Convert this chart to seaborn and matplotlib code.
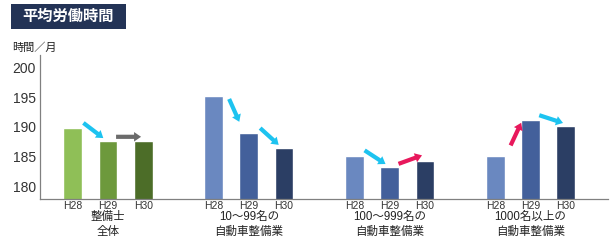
import numpy as np
import pandas as pd
import matplotlib
matplotlib.use("Agg")
import matplotlib.pyplot as plt
from matplotlib.patches import Rectangle, FancyArrowPatch
import seaborn as sns

# ---- data ----
groups = ["整備士\n全体", "10〜99名の\n自動車整備業", "100〜999名の\n自動車整備業", "1000名以上の\n自動車整備業"]
years = ["H28", "H29", "H30"]
g_all = [189.8, 187.7, 187.7]
g_10_99 = [195.2, 189.0, 186.5]
g_100_999 = [185.2, 183.4, 184.4]
g_1000 = [185.2, 191.1, 190.2]
series = [g_all, g_10_99, g_100_999, g_1000]
yticks = [180, 185, 190, 195, 200]
title = "平均労働時間"
unit = "時間／月"

green = ["#8fbf57", "#6d993c", "#4c6d28"]
blue = ["#6a88c0", "#43609b", "#2b3e64"]
c_down, c_flat, c_up = "#1dc3f0", "#6b6b6b", "#e8185c"

sns.set_theme(style="white")
plt.rcParams["font.family"] = ["Liberation Sans", "Noto Sans CJK JP"]

W, H = 616, 240
fig = plt.figure(figsize=(W / 100, H / 100), dpi=100)
ax = fig.add_axes([40 / W, 41 / H, (608 - 40) / W, 144 / H])

GAP = 4
BW = 0.53
rows = []
colors = []
for g, vals in enumerate(series):
    for i, v in enumerate(vals):
        rows.append({"pos": g * GAP + i, "val": v, "key": f"{g}-{i}"})
        colors.append((green if g == 0 else blue)[i])
df = pd.DataFrame(rows)

sns.barplot(data=df, x="pos", y="val", hue="key", palette=colors, native_scale=True,
            width=BW, dodge=False, legend=False, saturation=1, ax=ax)

ax.set_xlim(-0.93, 15.2)
ax.set_ylim(178, 202)
ax.set_yticks(yticks)
ax.set_yticklabels([str(t) for t in yticks], fontsize=10, color="#333333")
ax.set_xticks(df["pos"])
ax.set_xticklabels([years[i % 3] for i in range(len(df))], fontsize=7.5, color="#333333")
ax.tick_params(axis="both", length=0)
ax.tick_params(axis="y", pad=3)
ax.tick_params(axis="x", pad=1.5)
ax.set_xlabel("")
ax.set_ylabel("")
for s in ["top", "right"]:
    ax.spines[s].set_visible(False)
for s in ["left", "bottom"]:
    ax.spines[s].set_color("#808080")
    ax.spines[s].set_linewidth(0.9)

# group labels
tr = matplotlib.transforms.blended_transform_factory(ax.transData, fig.transFigure)
for g, lab in enumerate(groups):
    l1, l2 = lab.split("\n")
    ax.text(g * GAP + 1, (H - 217) / H, l1, transform=tr, ha="center", va="center",
            fontsize=8.3, color="#222222")
    ax.text(g * GAP + 1, (H - 232) / H, l2, transform=tr, ha="center", va="center",
            fontsize=8.3, color="#222222")

# arrows between bars (derived from the bar values)
fig.canvas.draw()
for g, vals in enumerate(series):
    for i in range(2):
        x0 = g * GAP + i
        c1 = ax.transData.transform((x0 + BW / 2, vals[i]))
        c2 = ax.transData.transform((x0 + 1 - BW / 2, vals[i + 1]))
        mid = (c1 + c2) / 2 + np.array([3.0, 4.0])
        d = c2 - c1
        d = d / np.hypot(*d)
        st, en = mid - 12.5 * d, mid + 12.5 * d
        diff = vals[i + 1] - vals[i]
        col = c_flat if abs(diff) < 0.05 else (c_up if diff > 0 else c_down)
        arr = FancyArrowPatch(st, en, transform=None, shrinkA=0, shrinkB=0,
                              arrowstyle="simple,head_length=0.7,head_width=0.95,tail_width=0.42",
                              mutation_scale=7.2, color=col, lw=0, zorder=5)
        fig.patches.append(arr)
        arr.set_figure(fig)

# title box
fig.patches.append(Rectangle((11 / W, 1 - 29 / H), 115 / W, 25 / H, transform=fig.transFigure,
                             facecolor="#233356", edgecolor="none"))
fig.text(68.5 / W, 1 - 16.5 / H, title, ha="center", va="center", color="white",
         fontsize=11, fontweight="bold")
fig.text(12 / W, 1 - 47.5 / H, unit, ha="left", va="center", color="#222222", fontsize=8)

fig.savefig("out.png", dpi=100, facecolor="white")
